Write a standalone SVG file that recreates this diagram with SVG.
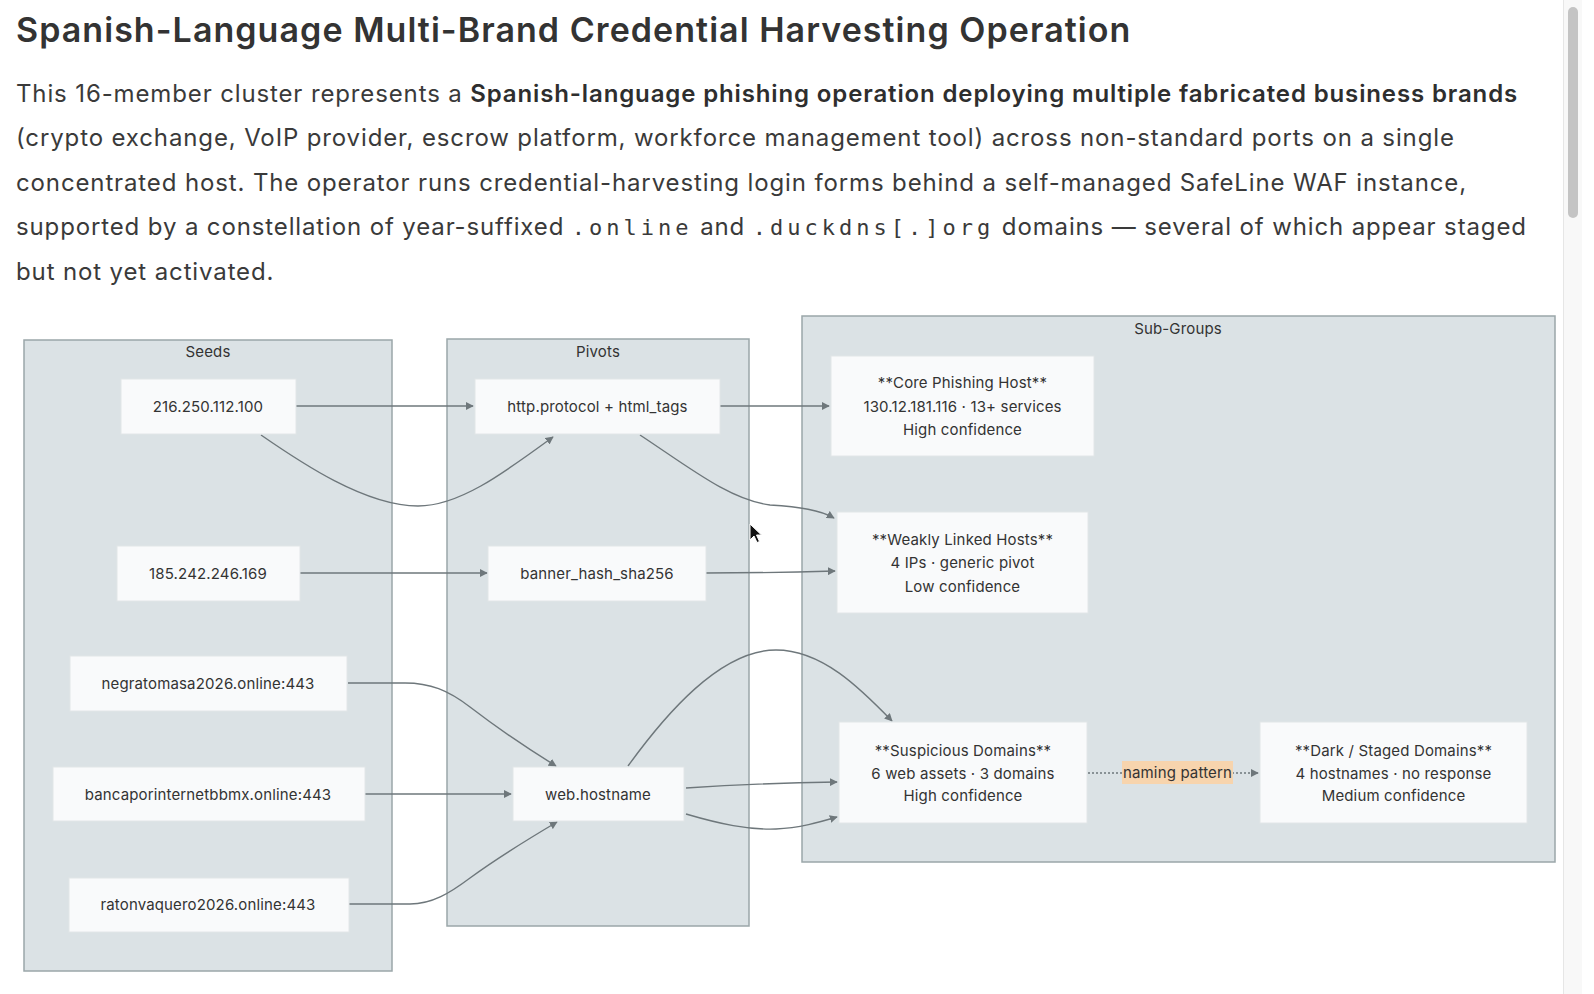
<svg xmlns="http://www.w3.org/2000/svg" width="1594" height="994" viewBox="0 0 1594 994">
<defs>
<style>
.title{font-family:Inter,"Liberation Sans",sans-serif;font-size:34px;font-weight:600;fill:#333;letter-spacing:1.05px}
.para{font-family:Inter,"Liberation Sans",sans-serif;font-size:24px;fill:#3a3a3a;letter-spacing:0.87px}
.b{font-weight:600;fill:#2e2e2e}
.mono{font-family:"DejaVu Sans Mono","Liberation Mono",monospace;font-size:22px;letter-spacing:4px}
.cluster{fill:#dbe2e5;stroke:#9ba6a9;stroke-width:1.5}
.clabel{font-family:Inter,"Liberation Sans",sans-serif;font-size:15px;fill:#333;text-anchor:middle;letter-spacing:0.15px}
.node rect{fill:#f9fafb;stroke:#e2e6e8;stroke-width:1}
.node text{font-family:Inter,"Liberation Sans",sans-serif;font-size:15px;fill:#333;text-anchor:middle;letter-spacing:0.15px}
.elabel{font-family:Inter,"Liberation Sans",sans-serif;font-size:15px;fill:#333;text-anchor:middle;letter-spacing:0.15px}
.edge{fill:none;stroke:#6e777b;stroke-width:1.4}
.dotted{stroke-dasharray:2 2}
</style>
<marker id="arr" viewBox="0 0 10 10" refX="9" refY="5" markerWidth="8" markerHeight="8" markerUnits="userSpaceOnUse" orient="auto">
<path d="M0,0 L10,5 L0,10 z" fill="#6e777b"/>
</marker>
</defs>
<rect width="1594" height="994" fill="#ffffff"/>

<g id="header">
<text class="title" x="16" y="42">Spanish-Language Multi-Brand Credential Harvesting Operation</text>
<text class="para" x="16" y="101.5">This 16-member cluster represents a <tspan class="b">Spanish-language phishing operation deploying multiple fabricated business brands</tspan></text>
<text class="para" x="16" y="146">(crypto exchange, VoIP provider, escrow platform, workforce management tool) across non-standard ports on a single</text>
<text class="para" x="16" y="190.5">concentrated host. The operator runs credential-harvesting login forms behind a self-managed SafeLine WAF instance,</text>
<text class="para" x="16" y="235">supported by a constellation of year-suffixed <tspan class="mono">.online</tspan> and <tspan class="mono">.duckdns[.]org</tspan> domains — several of which appear staged</text>
<text class="para" x="16" y="279.5">but not yet activated.</text>
</g>

<g id="clusters">
<g id="cluster-seeds"><rect class="cluster" x="24" y="340" width="368" height="631"/><text class="clabel" x="208" y="356.5">Seeds</text></g>
<g id="cluster-pivots"><rect class="cluster" x="447" y="339" width="302" height="587"/><text class="clabel" x="598" y="356.5">Pivots</text></g>
<g id="cluster-subgroups"><rect class="cluster" x="802" y="316" width="753" height="546"/><text class="clabel" x="1178" y="333.5">Sub-Groups</text></g>
</g>

<g id="connectors">
<path class="edge" d="M296,406 L473,406" marker-end="url(#arr)"/>
<path class="edge" d="M261,435 C300,462 365,506 418,506 C460,506 505,472 553,437" marker-end="url(#arr)"/>
<path class="edge" d="M300,573 L487,573" marker-end="url(#arr)"/>
<path class="edge" d="M720,406 L829,406" marker-end="url(#arr)"/>
<path class="edge" d="M640,435 C690,468 730,500 770,505 C800,507 820,510 834,518" marker-end="url(#arr)"/>
<path class="edge" d="M706,573 C760,573 800,572 835,571" marker-end="url(#arr)"/>
<path class="edge" d="M348,683 L405,683 C430,683 448,690 470,707 C500,730 530,750 556,766" marker-end="url(#arr)"/>
<path class="edge" d="M365,794 L511,794" marker-end="url(#arr)"/>
<path class="edge" d="M349,904 L410,904 C432,904 450,893 470,878 C500,856 530,838 557,822" marker-end="url(#arr)"/>
<path class="edge" d="M628,766 C665,715 720,650 776,650 C822,650 860,688 892,721" marker-end="url(#arr)"/>
<path class="edge" d="M686,788 C730,785 770,783 837,782" marker-end="url(#arr)"/>
<path class="edge" d="M686,814 C720,824 748,830 776,829 C800,828 820,822 837,817" marker-end="url(#arr)"/>
<path class="edge dotted" d="M1088,773 L1258,773" marker-end="url(#arr)"/>
<rect x="1122" y="761" width="111" height="23" fill="#f7d4ad"/>
<text class="elabel" x="1177.5" y="778">naming pattern</text>
</g>

<g id="node-s1" class="node"><rect x="121" y="379" width="175" height="55"/><text x="208" y="411.5">216.250.112.100</text></g>
<g id="node-s2" class="node"><rect x="117" y="546" width="183" height="55"/><text x="208" y="578.5">185.242.246.169</text></g>
<g id="node-s3" class="node"><rect x="70" y="656" width="277" height="55"/><text x="208" y="688.5">negratomasa2026.online:443</text></g>
<g id="node-s4" class="node"><rect x="53" y="767" width="312" height="54"/><text x="208" y="799.5">bancaporinternetbbmx.online:443</text></g>
<g id="node-s5" class="node"><rect x="69" y="878" width="280" height="54"/><text x="208" y="910">ratonvaquero2026.online:443</text></g>

<g id="node-p1" class="node"><rect x="475" y="379" width="245" height="55"/><text x="597.5" y="411.5">http.protocol + html_tags</text></g>
<g id="node-p2" class="node"><rect x="488" y="546" width="218" height="55"/><text x="597" y="578.5">banner_hash_sha256</text></g>
<g id="node-p3" class="node"><rect x="513" y="767" width="171" height="54"/><text x="598" y="799.5">web.hostname</text></g>

<g id="node-core" class="node"><rect x="831" y="356" width="263" height="100"/><text x="962.5" y="387.5">**Core Phishing Host**</text><text x="962.5" y="411.5">130.12.181.116 · 13+ services</text><text x="962.5" y="434.5">High confidence</text></g>
<g id="node-weak" class="node"><rect x="837" y="512" width="251" height="101"/><text x="962.5" y="544.5">**Weakly Linked Hosts**</text><text x="962.5" y="568">4 IPs · generic pivot</text><text x="962.5" y="591.5">Low confidence</text></g>
<g id="node-susp" class="node"><rect x="839" y="722" width="248" height="101"/><text x="963" y="755.5">**Suspicious Domains**</text><text x="963" y="778.5">6 web assets · 3 domains</text><text x="963" y="800.5">High confidence</text></g>
<g id="node-dark" class="node"><rect x="1260" y="722" width="267" height="101"/><text x="1393.5" y="755.5">**Dark / Staged Domains**</text><text x="1393.5" y="778.5">4 hostnames · no response</text><text x="1393.5" y="800.5">Medium confidence</text></g>

<g id="scrollbar">
<rect x="1563" y="0" width="19" height="994" fill="#f8f8f8"/>
<line x1="1563.5" y1="0" x2="1563.5" y2="994" stroke="#e6e6e6"/>
<rect x="1568" y="7" width="10" height="211" rx="5" fill="#c4c4c4"/>
</g>
<g id="cursor">
<path d="M750,524 L750,540 L754,536 L757,542.5 L759.5,541.5 L756.5,535 L761.5,535 Z" fill="#111" stroke="#fff" stroke-width="1"/>
</g>
</svg>
